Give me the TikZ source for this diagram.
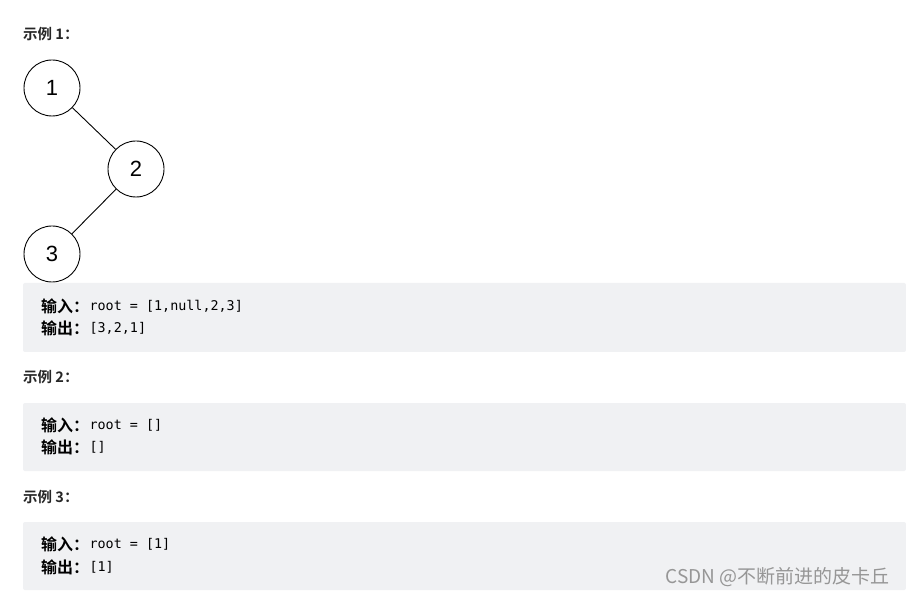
\documentclass[tikz,border=0pt]{standalone}
\usepackage{fontspec}
\setmainfont{Liberation Sans}
\newfontfamily\cjk{Noto Sans CJK SC}
\newfontfamily\cjkbold{Noto Sans CJK SC}[UprightFont=* Bold]
\newfontfamily\codefont{DejaVu Sans Mono}
\definecolor{codebg}{RGB}{240,241,243}
\definecolor{titlecol}{RGB}{38,38,38}
\definecolor{markcol}{RGB}{150,150,150}
\tikzset{
  treenode/.style={circle, draw, line width=0.9pt, minimum size=56pt, inner sep=0pt, font=\fontsize{22}{22}\selectfont},
  title/.style={anchor=west, inner sep=0pt, text=titlecol, font=\cjkbold\fontsize{14.5}{14.5}\selectfont},
  label/.style={anchor=west, inner sep=0pt, font=\cjkbold\fontsize{16}{16}\selectfont},
  code/.style={anchor=west, inner sep=0pt, font=\codefont\fontsize{13.4}{13.4}\selectfont},
  codebox/.style={fill=codebg, rounded corners=2pt},
}
\begin{document}
\begin{tikzpicture}[x=1pt, y=-1pt]
    \useasboundingbox[fill=white] (0,0) rectangle (906,596);

    % Esempio 1
    \node[title] (t1) at (23,34) {示例 1：};
    \node[treenode] (n1) at (52,88) {1};
    \node[treenode] (n2) at (136,169) {2};
    \node[treenode] (n3) at (52,254) {3};
    \draw[line width=0.9pt] (n1) -- (n2);
    \draw[line width=0.9pt] (n2) -- (n3);

    \fill[codebox] (23,283) rectangle (906,352);
    \node[label] (in1) at (41,306) {输入：};
    \node[code] (inv1) at (in1.east) {root = [1,null,2,3]};
    \node[label] (out1) at (41,328) {输出：};
    \node[code] (outv1) at (out1.east) {[3,2,1]};

    % Esempio 2
    \node[title] (t2) at (23,377) {示例 2：};
    \fill[codebox] (23,403) rectangle (906,471);
    \node[label] (in2) at (41,425) {输入：};
    \node[code] (inv2) at (in2.east) {root = []};
    \node[label] (out2) at (41,447) {输出：};
    \node[code] (outv2) at (out2.east) {[]};

    % Esempio 3
    \node[title] (t3) at (23,497) {示例 3：};
    \fill[codebox] (23,522) rectangle (906,590);
    \node[label] (in3) at (41,544) {输入：};
    \node[code] (inv3) at (in3.east) {root = [1]};
    \node[label] (out3) at (41,567) {输出：};
    \node[code] (outv3) at (out3.east) {[1]};

    % filigrana
    \node[anchor=east, inner sep=0pt, text=markcol, font=\cjk\fontsize{19}{19}\selectfont] (mark) at (890,577) {CSDN @不断前进的皮卡丘};
\end{tikzpicture}
\end{document}
